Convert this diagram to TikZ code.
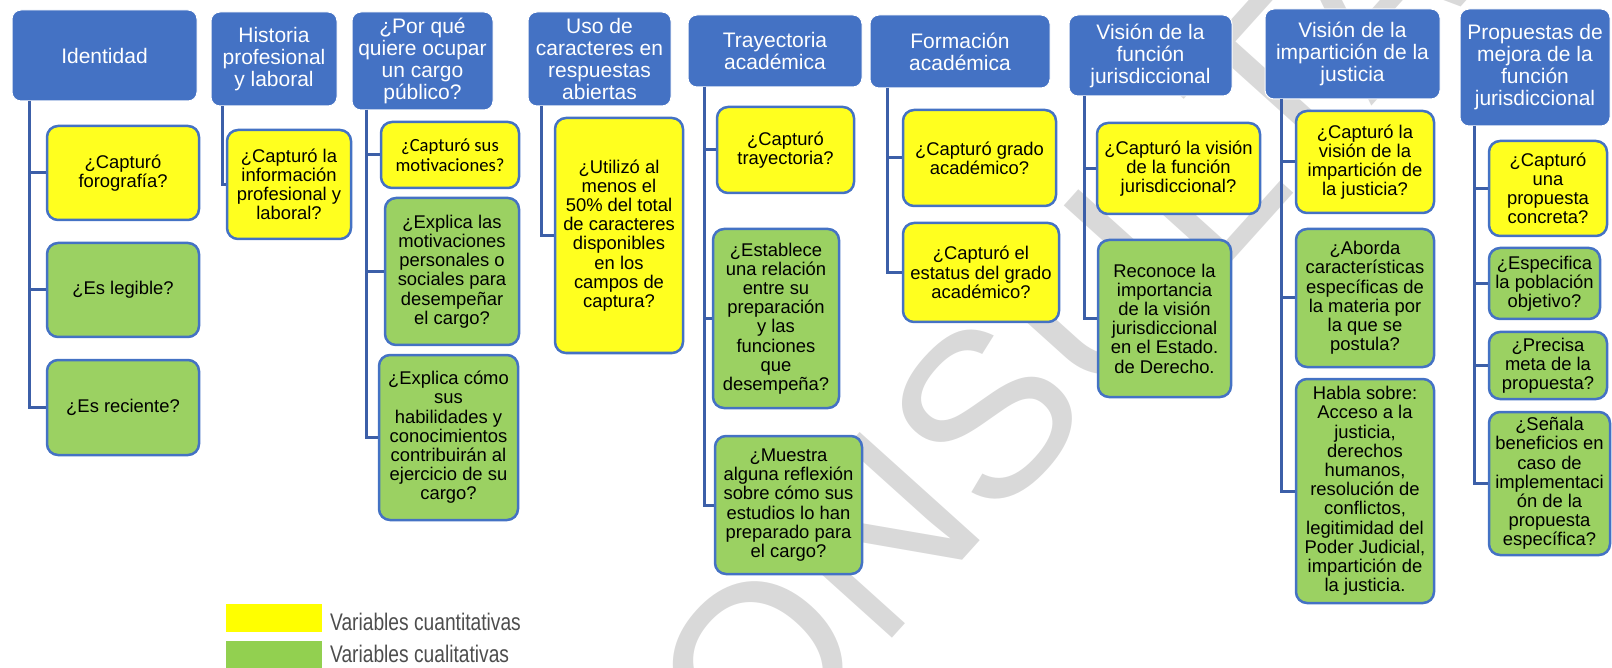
\documentclass[tikz,border=0pt]{standalone}
\usepackage{fontspec}
\setmainfont{Liberation Sans}
\newfontfamily\carlitofont{Carlito}
\usetikzlibrary{calc}
\definecolor{hdrblue}{HTML}{4472C4}
\definecolor{bordblue}{HTML}{4472C4}
\definecolor{connblue}{HTML}{3C5FA8}
\definecolor{ylw}{HTML}{FFFF1F}
\definecolor{grn}{HTML}{9BD162}
\definecolor{legy}{HTML}{FFFF00}
\definecolor{legg}{HTML}{92D050}
\definecolor{legtxt}{HTML}{4D4D4D}
\definecolor{wmgray}{HTML}{D9D9D9}
\tikzset{
  hdr/.style={draw=white, line width=1pt, fill=hdrblue, rounded corners=9pt, text=white, align=center, font=\fontsize{21}{22}\selectfont, inner sep=0pt},
  qbox/.style={draw=bordblue, line width=2.5pt, rounded corners=11pt, align=center, font=\fontsize{18.4}{19.2}\selectfont, inner sep=0pt},
  yq/.style={qbox, fill=ylw},
  gq/.style={qbox, fill=grn},
  conn/.style={draw=connblue, line width=3pt, line join=miter},
  legbox/.style={draw=none, inner sep=0pt, minimum width=96pt},
  legtext/.style={text=legtxt, font=\fontsize{24}{24}\selectfont, xscale=0.8, transform shape, inner sep=0pt, anchor=base west},
}
\newcommand{\pbox}[7]{\node[#1, minimum width={#4-#2}, minimum height={#5-#3}] (#6) at ({(#2+#4)/2},{(#3+#5)/2}) {#7};}
\begin{document}
\begin{tikzpicture}[x=1pt,y=-1pt]
\useasboundingbox (0,0) rectangle (1612,668);
\clip (0,0) rectangle (1612,668);
% watermark (behind everything)
\node[rotate=48, text=wmgray, font=\fontsize{235}{235}\selectfont, inner sep=0pt] (wm) at (1000,398) {CONSULTA};
% connector trunks
\coordinate (t1) at (29,101);
\coordinate (t2) at (222,106);
\coordinate (t3) at (366,110);
\coordinate (t4) at (541,106);
\coordinate (t5) at (704,87);
\coordinate (t6) at (887,88);
\coordinate (t7) at (1084,96);
\coordinate (t8) at (1281,99);
\coordinate (t9) at (1474,126);
% headers
\pbox{hdr}{12}{10}{197}{101}{h1}{Identidad}
\pbox{hdr}{211}{12}{337}{106}{h2}{Historia\\profesional\\y laboral}
\pbox{hdr}{352}{12}{493}{110}{h3}{¿Por qué\\quiere ocupar\\un cargo\\público?}
\pbox{hdr}{528}{12}{671}{106}{h4}{Uso de\\caracteres en\\respuestas\\abiertas}
\pbox{hdr}{688}{15}{862}{87}{h5}{Trayectoria\\académica}
\pbox{hdr}{870}{15}{1050}{88}{h6}{Formación\\académica}
\pbox{hdr}{1069}{15}{1232}{96}{h7}{Visión de la\\función\\jurisdiccional}
\pbox{hdr}{1265}{9}{1440}{99}{h8}{Visión de la\\impartición de la\\justicia}
\pbox{hdr}{1460}{9}{1610}{126}{h9}{Propuestas de\\mejora de la\\función\\jurisdiccional}
% children
\pbox{yq}{47}{126}{199}{220}{c11}{¿Capturó\\forografía?}
\pbox{gq}{47}{243}{199}{337}{c12}{¿Es legible?}
\pbox{gq}{47}{360}{199}{455}{c13}{¿Es reciente?}
\pbox{yq}{227}{130}{351}{239}{c21}{¿Capturó la\\información\\profesional y\\laboral?}
\pbox{yq, font=\fontsize{18.6}{20}\selectfont\carlitofont}{381}{122}{519}{188}{c31}{¿Capturó sus\\motivaciones?}
\pbox{gq}{385}{198}{519}{345}{c32}{¿Explica las\\motivaciones\\personales o\\sociales para\\desempeñar\\el cargo?}
\pbox{gq}{379}{355}{518}{520}{c33}{¿Explica cómo\\sus\\habilidades y\\conocimientos\\contribuirán al\\ejercicio de su\\cargo?}
\pbox{yq}{555}{118}{683}{353}{c41}{¿Utilizó al\\menos el\\50\% del total\\de caracteres\\disponibles\\en los\\campos de\\captura?}
\pbox{yq}{717}{107}{854}{193}{c51}{¿Capturó\\trayectoria?}
\pbox{gq}{713}{229}{839}{408}{c52}{¿Establece\\una relación\\entre su\\preparación\\y las\\funciones\\que\\desempeña?}
\pbox{gq}{715}{436}{862}{574}{c53}{¿Muestra\\alguna reflexión\\sobre cómo sus\\estudios lo han\\preparado para\\el cargo?}
\pbox{yq}{903}{110}{1056}{206}{c61}{¿Capturó grado\\académico?}
\pbox{yq}{903}{223}{1059}{322}{c62}{¿Capturó el\\estatus del grado\\académico?}
\pbox{yq}{1097}{123}{1260}{214}{c71}{¿Capturó la visión\\de la función\\jurisdiccional?}
\pbox{gq}{1098}{240}{1231}{397}{c72}{Reconoce la\\importancia\\de la visión\\jurisdiccional\\en el Estado.\\de Derecho.}
\pbox{yq}{1296}{111}{1434}{213}{c81}{¿Capturó la\\visión de la\\impartición de\\la justicia?}
\pbox{gq}{1296}{229}{1434}{367}{c82}{¿Aborda\\características\\específicas de\\la materia por\\la que se\\postula?}
\pbox{gq}{1296}{379}{1434}{603}{c83}{Habla sobre:\\Acceso a la\\justicia,\\derechos\\humanos,\\resolución de\\conflictos,\\legitimidad del\\Poder Judicial,\\impartición de\\la justicia.}
\pbox{yq}{1489}{141}{1607}{236}{c91}{¿Capturó\\una\\propuesta\\concreta?}
\pbox{gq}{1489}{248}{1600}{319}{c92}{¿Especifica\\la población\\objetivo?}
\pbox{gq}{1489}{332}{1607}{399}{c93}{¿Precisa\\meta de la\\propuesta?}
\pbox{gq}{1489}{412}{1610}{555}{c94}{¿Señala\\beneficios en\\caso de\\implementaci\\ón de la\\propuesta\\específica?}
% connectors
\draw[conn] (t1) |- (c11.west);
\draw[conn] (t1) |- (c12.west);
\draw[conn] (t1) |- (c13.west);
\draw[conn] (t2) |- (c21.west);
\draw[conn] (t3) |- (c31.west);
\draw[conn] (t3) |- (c32.west);
\draw[conn] (t3) |- (c33.west);
\draw[conn] (t4) |- (c41.west);
\draw[conn] (t5) |- (c51.west);
\draw[conn] (t5) |- (c52.west);
\draw[conn] (t5) |- (c53.west);
\draw[conn] (t6) |- (c61.west);
\draw[conn] (t6) |- (c62.west);
\draw[conn] (t7) |- (c71.west);
\draw[conn] (t7) |- (c72.west);
\draw[conn] (t8) |- (c81.west);
\draw[conn] (t8) |- (c82.west);
\draw[conn] (t8) |- (c83.west);
\draw[conn] (t9) |- (c91.west);
\draw[conn] (t9) |- (c92.west);
\draw[conn] (t9) |- (c93.west);
\draw[conn] (t9) |- (c94.west);
% legend
\node[legbox, fill=legy, minimum height=28pt] (ly) at (274,618) {};
\node[legbox, fill=legg, minimum height=27pt] (lg) at (274,654.5) {};
\node[legtext] (lyt) at (330,630) {Variables cuantitativas};
\node[legtext] (lgt) at (330,662) {Variables cualitativas};
\end{tikzpicture}
\end{document}
